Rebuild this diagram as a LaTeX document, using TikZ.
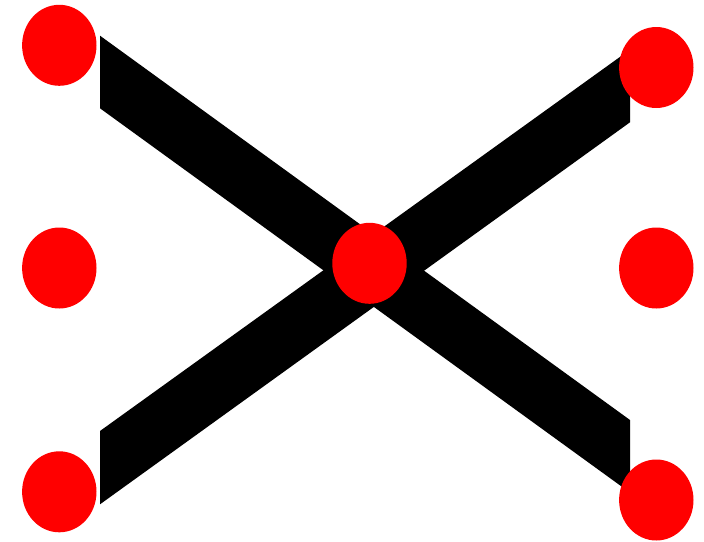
\documentclass[tikz,border=0pt]{standalone}
\usetikzlibrary{shapes.geometric}
\begin{document}
\begin{tikzpicture}[x=1pt,y=-1pt,
  dot/.style={ellipse,fill=red,draw=none,minimum width=74.4pt,minimum height=81pt,inner sep=0pt},
  band/.style={fill=black,draw=none}]
\useasboundingbox (0,0) rectangle (704,541);
% bands
\coordinate (a1) at (100,35.7);
\coordinate (a2) at (630,420);
\coordinate (a3) at (630,492.6);
\coordinate (a4) at (100,108.3);
\fill[band] (a1) -- (a2) -- (a3) -- (a4) -- cycle;
\coordinate (b1) at (100,431);
\coordinate (b2) at (630,49.7);
\coordinate (b3) at (630,122.3);
\coordinate (b4) at (100,504.3);
\fill[band] (b1) -- (b2) -- (b3) -- (b4) -- cycle;
% dots
\node[dot] (tl) at (59.3,45.3) {};
\node[dot] (ml) at (59.3,268) {};
\node[dot] (bl) at (59.3,491.8) {};
\node[dot] (tr) at (656.3,67.5) {};
\node[dot] (mr) at (656.3,268) {};
\node[dot] (br) at (656.3,500) {};
\node[dot] (c) at (369.5,263.3) {};
\end{tikzpicture}
\end{document}
